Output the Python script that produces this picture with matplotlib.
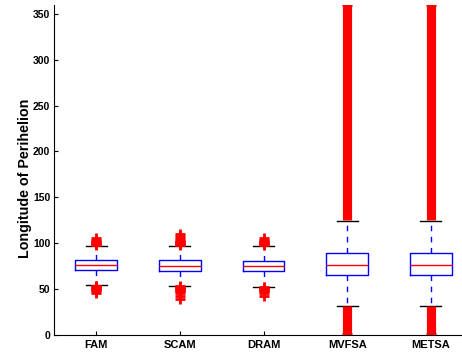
import matplotlib
matplotlib.use("Agg")
import matplotlib.pyplot as plt

categories = ['FAM', 'SCAM', 'DRAM', 'MVFSA', 'METSA']
medians = [75.8, 75.4, 75.4, 76.1, 76.1]
q1 = [70.4, 69.3, 69.3, 65.5, 65.5]
q3 = [81.3, 81.3, 80.8, 88.9, 88.9]
whislo = [54.0, 53.2, 52.4, 31.0, 31.0]
whishi = [97.2, 97.2, 97.2, 124.2, 124.2]

# individual outliers
fliers = [
    [97.8, 98.5, 99.2, 100.0, 100.8, 101.5, 102.3, 103.0, 105.0,
     53.5, 52.8, 52.0, 51.2, 50.4, 49.6, 48.8, 48.0, 46.0],
    [97.8, 98.5, 99.2, 100.0, 100.8, 101.5, 102.3, 103.0, 105.0, 108.0, 110.0,
     53.0, 52.2, 51.4, 50.6, 49.8, 49.0, 48.2, 47.4, 45.0, 42.0, 39.0],
    [97.8, 98.5, 99.2, 100.0, 100.8, 101.5, 102.3, 103.0, 105.5,
     52.0, 51.2, 50.4, 49.6, 48.8, 48.0, 47.2, 45.0, 42.5],
    [0.3, 359.7],
    [0.3, 359.7],
]
# continuous bands of outliers (too dense to separate): (category index, low, high)
flier_bands = [
    (3, 0.3, 30.8), (3, 124.8, 359.7),
    (4, 0.3, 30.8), (4, 124.8, 359.7),
]
yticks = [0, 50, 100, 150, 200, 250, 300, 350]

fig = plt.figure(figsize=(4.62, 3.53), dpi=100)
ax = fig.add_axes([54.3 / 462, 18.3 / 353, 418.5 / 462, 330.0 / 353])

stats = []
for i, name in enumerate(categories):
    stats.append(dict(label=name, med=medians[i], q1=q1[i], q3=q3[i],
                      whislo=whislo[i], whishi=whishi[i], fliers=fliers[i]))

positions = list(range(1, len(categories) + 1))
ax.bxp(stats, positions=positions, widths=0.5, capwidths=0.25,
       boxprops=dict(color='#0000ff', linewidth=1.0),
       medianprops=dict(color='#ff0000', linewidth=1.0),
       whiskerprops=dict(color='#0000ff', linewidth=1.0, linestyle=(0, (4, 4))),
       capprops=dict(color='black', linewidth=1.0),
       flierprops=dict(marker='+', markersize=7, markeredgewidth=2.0,
                       markeredgecolor='#ff0000', linestyle='none'),
       manage_ticks=False, zorder=2)

for idx, lo, hi in flier_bands:
    ax.vlines(positions[idx], lo, hi, colors='#ff0000', linewidth=6.6, zorder=3,
              clip_on=False)

ax.set_xlim(0.5, 5.5)
ax.set_ylim(0, 360)
ax.set_xticks(positions)
ax.set_xticklabels(categories, fontsize=8, fontweight='bold', family='Liberation Sans')
ax.set_yticks(yticks)
ax.set_yticklabels([str(v) for v in yticks], fontsize=7.5, fontweight='bold', family='Liberation Sans')
ax.tick_params(axis='both', direction='in', length=3, width=0.8)
ax.tick_params(axis='x', pad=4)
ax.tick_params(axis='y', pad=3)
ax.spines['top'].set_visible(False)
ax.spines['right'].set_visible(False)
ax.spines['left'].set_linewidth(0.8)
ax.spines['bottom'].set_linewidth(0.8)
ax.set_ylabel('Longitude of Perihelion', fontsize=10.3, fontweight='bold',
              family='Liberation Sans')
ax.yaxis.set_label_coords(-0.054, 0.473)

fig.savefig('out.png', dpi=100)
